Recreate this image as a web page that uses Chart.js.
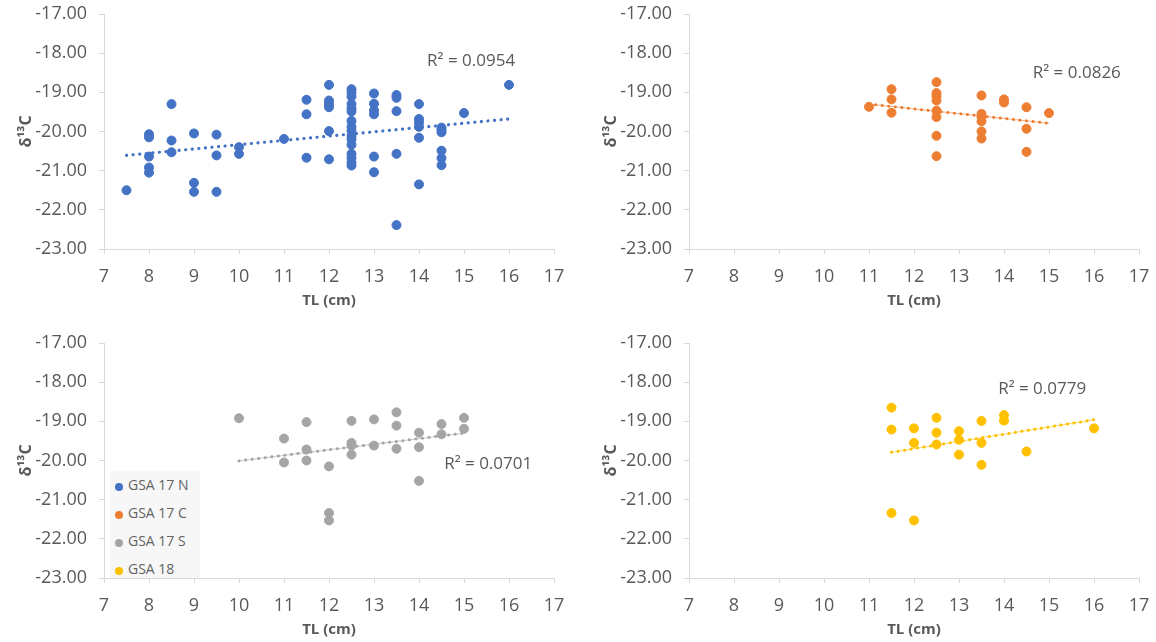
<!DOCTYPE html>
<html lang="en">
<head>
  <meta charset="UTF-8">
  <title>δ13C vs TL</title>
  <style>
    * { box-sizing: border-box; margin: 0; padding: 0; }
    body {
      width: 1156px;
      height: 642px;
      background: #fff;
      position: relative;
      overflow: hidden;
      font-family: 'Open Sans', sans-serif;
    }
    canvas { position: absolute; }
    #c1 { left: 0; top: 0; }
    #c2 { left: 585px; top: 0; }
    #c3 { left: 0; top: 329px; }
    #c4 { left: 585px; top: 329px; }
    .legend {
      position: absolute;
      left: 110px;
      top: 471px;
      width: 90px;
      height: 107px;
      background: #f7f7f7;
      padding-left: 5px;
      color: #636363;
      font-size: 14px;
    }
    .legend div {
      height: 28px;
      line-height: 28px;
      white-space: nowrap;
    }
    .legend span {
      display: inline-block;
      width: 8px;
      height: 8px;
      border-radius: 50%;
      margin-right: 5px;
      vertical-align: -1px;
    }
  </style>
</head>
<body>
  <canvas id="c1" width="571" height="310"></canvas>
  <canvas id="c2" width="571" height="310"></canvas>
  <canvas id="c3" width="571" height="310"></canvas>
  <canvas id="c4" width="571" height="310"></canvas>

  <div class="legend" id="legend"></div>

  <script src="https://cdn.jsdelivr.net/npm/chart.js"></script>
  <script>
    // GSA 17 N
    const tlN = [7.5, 8, 8, 8, 8, 8, 8.5, 8.5, 8.5, 9, 9, 9, 9.5, 9.5, 9.5, 10, 10, 11,
      11.5, 11.5, 11.5, 12, 12, 12, 12, 12, 12,
      12.5, 12.5, 12.5, 12.5, 12.5, 12.5, 12.5, 12.5, 12.5, 12.5, 12.5, 12.5, 12.5, 12.5, 12.5, 12.5,
      13, 13, 13, 13, 13, 13, 13.5, 13.5, 13.5, 13.5, 13.5,
      14, 14, 14, 14, 14, 14, 14.5, 14.5, 14.5, 14.5, 14.5, 14.5, 15, 16];
    const d13cN = [-21.50, -20.07, -20.15, -20.64, -20.92, -21.05, -19.30, -20.23, -20.53,
      -20.05, -21.31, -21.54, -20.08, -20.61, -21.54, -20.40, -20.57, -20.19,
      -19.19, -19.56, -20.67, -18.81, -19.21, -19.30, -19.38, -19.99, -20.71,
      -18.92, -19.01, -19.11, -19.30, -19.41, -19.49, -19.73, -19.88, -19.98, -20.11, -20.20, -20.34, -20.57, -20.68, -20.79, -20.87,
      -19.03, -19.29, -19.46, -19.56, -20.64, -21.04, -19.07, -19.14, -19.48, -20.57, -22.39,
      -19.30, -19.68, -19.77, -19.88, -20.16, -21.35, -19.90, -19.96, -20.02, -20.49, -20.68, -20.86, -19.53, -18.81];

    // GSA 17 C
    const tlC = [11, 11.5, 11.5, 11.5, 12.5, 12.5, 12.5, 12.5, 12.5, 12.5, 12.5, 12.5,
      13.5, 13.5, 13.5, 13.5, 13.5, 13.5, 14, 14, 14.5, 14.5, 14.5, 15];
    const d13cC = [-19.37, -18.92, -19.18, -19.52, -18.74, -19.02, -19.10, -19.21, -19.47, -19.63, -20.11, -20.63,
      -19.08, -19.55, -19.62, -19.74, -20.00, -20.18, -19.18, -19.26, -19.38, -19.93, -20.52, -19.53];

    // GSA 17 S
    const tlS = [10, 11, 11, 11.5, 11.5, 11.5, 12, 12, 12, 12.5, 12.5, 12.5, 12.5,
      13, 13, 13.5, 13.5, 13.5, 14, 14, 14, 14.5, 14.5, 15, 15];
    const d13cS = [-18.92, -19.44, -20.05, -19.02, -19.72, -20.00, -20.15, -21.34, -21.53,
      -18.99, -19.55, -19.62, -19.85, -18.95, -19.62, -18.77, -19.11, -19.70,
      -19.29, -19.66, -20.52, -19.07, -19.33, -18.91, -19.19];

    // GSA 18
    const tl18 = [11.5, 11.5, 11.5, 12, 12, 12, 12.5, 12.5, 12.5, 13, 13, 13,
      13.5, 13.5, 13.5, 14, 14, 14.5, 16];
    const d13c18 = [-18.65, -19.21, -21.34, -19.18, -19.55, -21.53, -18.91, -19.29, -19.59,
      -19.25, -19.47, -19.85, -18.99, -19.55, -20.11, -18.84, -18.98, -19.77, -19.18];

    // linear trendlines, end points
    const trendTlN = [7.5, 16],  trendN = [-20.61, -19.68];
    const trendTlC = [11, 15],   trendC = [-19.30, -19.79];
    const trendTlS = [10, 15],   trendS = [-20.01, -19.30];
    const trendTl18 = [11.5, 16], trend18 = [-19.79, -18.96];

    const r2Text = ['R² = 0.0954', 'R² = 0.0826', 'R² = 0.0701', 'R² = 0.0779'];
    const seriesNames = ['GSA 17 N', 'GSA 17 C', 'GSA 17 S', 'GSA 18'];
    const colors = ['#4472C4', '#ED7D31', '#A5A5A5', '#FFC000'];

    const xTicks = [7, 8, 9, 10, 11, 12, 13, 14, 15, 16, 17];
    const yTicks = [-17, -18, -19, -20, -21, -22, -23];

    Chart.defaults.font.family = "'Open Sans', sans-serif";
    Chart.defaults.color = '#595959';

    const toPoints = (xs, ys) => xs.map((x, i) => ({ x: x, y: ys[i] }));

    const r2Label = {
      id: 'r2Label',
      afterDatasetsDraw(chart, args, opts) {
        const { ctx, scales } = chart;
        ctx.save();
        ctx.font = "17px 'Open Sans', sans-serif";
        ctx.fillStyle = '#595959';
        ctx.textBaseline = 'middle';
        ctx.fillText(opts.text, scales.x.getPixelForValue(opts.x), scales.y.getPixelForValue(opts.y));
        ctx.restore();
      }
    };

    function makeChart(id, xs, ys, tx, ty, color, r2, labelPos, thinTrend) {
      const datasets = [{
        type: 'line',
        data: toPoints(tx, ty),
        borderColor: color,
        borderWidth: thinTrend ? 3 : 3.2,
        borderDash: [0.1, 6.5],
        borderCapStyle: 'round',
        pointRadius: 0,
        fill: false
      }];
      if (thinTrend) {
        datasets.push({
          type: 'line',
          data: toPoints(tx, ty),
          borderColor: color + '99',
          borderWidth: 1,
          pointRadius: 0,
          fill: false
        });
      }
      datasets.push({
        data: toPoints(xs, ys),
        backgroundColor: color,
        borderColor: color,
        pointRadius: 4.5,
        pointHoverRadius: 4.5
      });

      return new Chart(document.getElementById(id), {
        type: 'scatter',
        data: { datasets: datasets },
        options: {
          responsive: false,
          animation: false,
          layout: { padding: { left: 0, top: 14, right: 17, bottom: 0 } },
          plugins: {
            legend: { display: false },
            tooltip: { enabled: false },
            r2Label: { text: r2, x: labelPos[0], y: labelPos[1] }
          },
          scales: {
            x: {
              type: 'linear',
              min: 7,
              max: 17,
              afterBuildTicks: s => { s.ticks = xTicks.map(v => ({ value: v })); },
              afterFit: s => { s.height = 61; s.paddingLeft = 0; s.paddingRight = 0; },
              grid: { drawOnChartArea: false, tickLength: 5, color: '#d9d9d9' },
              border: { color: '#d9d9d9' },
              ticks: { font: { size: 18 }, padding: 12, maxRotation: 0 },
              title: {
                display: true,
                text: 'TL (cm)',
                font: { size: 15, weight: 'bold' },
                padding: { top: 0, bottom: 0 }
              }
            },
            y: {
              min: -23,
              max: -17,
              afterBuildTicks: s => { s.ticks = yTicks.map(v => ({ value: v })); },
              afterFit: s => { s.width = 104; s.paddingTop = 0; s.paddingBottom = 0; },
              grid: { drawOnChartArea: false, tickLength: 5, color: '#d9d9d9' },
              border: { color: '#d9d9d9' },
              ticks: { font: { size: 18 }, padding: 12, callback: v => v.toFixed(2) },
              title: {
                display: true,
                text: 'δ¹³C',
                font: { size: 16, weight: 'bold' },
                padding: { top: 17, bottom: 0 }
              }
            }
          }
        },
        plugins: [r2Label]
      });
    }

    makeChart('c1', tlN, d13cN, trendTlN, trendN, colors[0], r2Text[0], [14.18, -18.2], false);
    makeChart('c2', tlC, d13cC, trendTlC, trendC, colors[1], r2Text[1], [14.64, -18.51], true);
    makeChart('c3', tlS, d13cS, trendTlS, trendS, colors[2], r2Text[2], [14.56, -20.09], true);
    makeChart('c4', tl18, d13c18, trendTl18, trend18, colors[3], r2Text[3], [13.87, -18.17], true);

    const legend = document.getElementById('legend');
    seriesNames.forEach((name, i) => {
      const row = document.createElement('div');
      row.innerHTML = '<span style="background:' + colors[i] + '"></span>' + name;
      legend.appendChild(row);
    });
  </script>
</body>
</html>
